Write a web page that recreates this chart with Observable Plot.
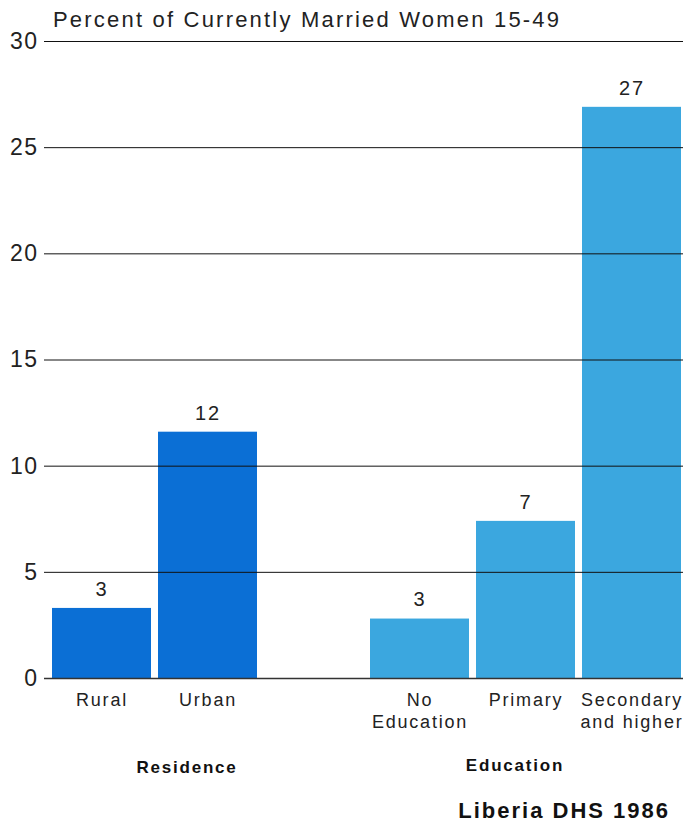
<!DOCTYPE html>
<html>
<head>
<meta charset="utf-8">
<script src="https://cdn.jsdelivr.net/npm/d3@7"></script>
<script src="https://cdn.jsdelivr.net/npm/@observablehq/plot@0.6"></script>
<style>
  html, body { margin: 0; padding: 0; background: #fff; }
  body { width: 683px; height: 825px; overflow: hidden; font-family: "Liberation Sans", Arial, sans-serif; }
  #title { height: 24px; box-sizing: border-box; padding-top: 6px; line-height: 28px; padding-left: 53px; font-size: 22px; letter-spacing: 2.2px; color: #222; white-space: nowrap; position: relative; z-index: 1; }
  #caption { height: 35px; box-sizing: border-box; padding-top: 4px; line-height: 34px; text-align: right; padding-right: 13px; font-size: 22px; font-weight: bold; letter-spacing: 2px; color: #111; }
  #chart svg { display: block; }
  #chart svg text { letter-spacing: 1.5px; }
  #chart svg g.ytick text { letter-spacing: 1.5px; }
  #chart svg g.xlab text { letter-spacing: 1.8px; }
  #chart svg g.val text { letter-spacing: 2px; }
  #chart svg g.grp text { letter-spacing: 1.8px; }
</style>
</head>
<body>
<div id="title">Percent of Currently Married Women 15-49</div>
<div id="chart"></div>
<div id="caption">Liberia DHS 1986</div>
<script>
const categories = ["Rural", "Urban", "No Education", "Primary", "Secondary and higher"];
const groups = ["Residence", "Residence", "Education", "Education", "Education"];
const values = [3.3, 11.6, 2.8, 7.4, 26.9];
const tickLabels = ["Rural", "Urban", "No\nEducation", "Primary", "Secondary\nand higher"];
const yTicks = [0, 5, 10, 15, 20, 25, 30];
const groupNames = ["Residence", "Education"];
const groupColors = ["#0b6fd5", "#3ba7df"];

const data = categories.map((c, i) => ({category: c, group: groups[i], value: values[i], label: tickLabels[i]}));
const xDomain = [categories[0], categories[1], "", categories[2], categories[3], categories[4]];
const labelOf = new Map(categories.map((c, i) => [c, tickLabels[i]]));

const chart = Plot.plot({
  width: 683,
  height: 766,
  marginTop: 17,
  marginBottom: 112,
  marginLeft: 44,
  marginRight: 0,
  style: {fontFamily: "'Liberation Sans', Arial, sans-serif", color: "#222", background: "transparent"},
  x: {domain: xDomain, range: [52, 682], paddingInner: 0.062, paddingOuter: 0},
  y: {domain: [0, 30], ticks: yTicks},
  color: {domain: groupNames, range: groupColors},
  marks: [
    Plot.barY(data, {x: "category", y: "value", fill: "group"}),
    Plot.ruleY(yTicks.filter(d => d > 0), {stroke: "#111", strokeWidth: 1}),
    Plot.ruleY([0], {stroke: "#333", strokeWidth: 1.6}),
    Plot.axisY({ticks: yTicks, tickSize: 0, tickPadding: 6, fontSize: 23, label: null, fill: "#222", className: "ytick"}),
    Plot.axisX({
      ticks: categories,
      tickSize: 0,
      tickPadding: 13,
      fontSize: 18,
      lineHeight: 1.17,
      lineAnchor: "top",
      label: null,
      tickFormat: d => labelOf.get(d) ?? "",
      fill: "#222",
      className: "xlab"
    }),
    Plot.text(data, {x: "category", y: "value", text: d => String(Math.round(d.value)), dy: -19, fontSize: 20, fill: "#222", className: "val"}),
    Plot.text([groupNames[0]], {x: () => categories[1], y: () => 0, text: d => d, dx: -21, dy: 89, fontSize: 17, fontWeight: "bold", fill: "#111", className: "grp"}),
    Plot.text([groupNames[1]], {x: () => categories[3], y: () => 0, text: d => d, dx: -11, dy: 87, fontSize: 17, fontWeight: "bold", fill: "#111", className: "grp"})
  ]
});
document.getElementById("chart").appendChild(chart);
</script>
</body>
</html>
